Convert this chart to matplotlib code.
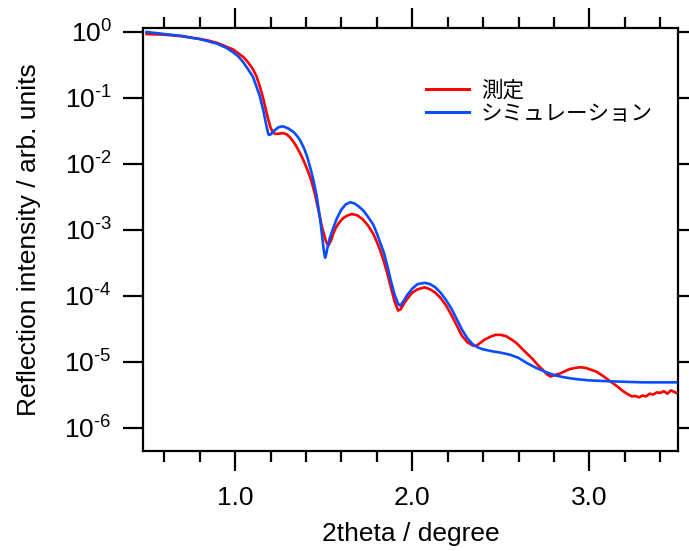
import math
import matplotlib
matplotlib.use("Agg")
import matplotlib.pyplot as plt
from matplotlib.ticker import FixedLocator, FuncFormatter, MultipleLocator

plt.rcParams['font.family'] = ['Liberation Sans', 'Noto Sans CJK JP', 'DejaVu Sans']
plt.rcParams['mathtext.fontset'] = 'custom'
plt.rcParams['mathtext.rm'] = 'Liberation Sans'
plt.rcParams['mathtext.it'] = 'Liberation Sans'
plt.rcParams['mathtext.bf'] = 'Liberation Sans'

# ---- data ----
sim_x = [0.50, 0.60, 0.70, 0.75, 0.80, 0.85, 0.90, 0.95, 0.99, 1.02, 1.045, 1.07,
         1.10, 1.12, 1.14, 1.16, 1.175, 1.185, 1.19, 1.20, 1.22, 1.245, 1.27, 1.30, 1.33,
         1.35, 1.367, 1.39, 1.407, 1.424, 1.44, 1.46, 1.48, 1.495, 1.50, 1.508, 1.515, 1.52, 1.535,
         1.554, 1.575, 1.60, 1.625, 1.65, 1.675, 1.70, 1.725, 1.75, 1.78, 1.80, 1.82,
         1.84, 1.86, 1.88, 1.90, 1.92, 1.932, 1.95, 1.97, 2.00, 2.03, 2.07, 2.10,
         2.13, 2.16, 2.19, 2.22, 2.25, 2.28, 2.31, 2.34, 2.37, 2.40, 2.45, 2.50,
         2.55, 2.60, 2.65, 2.70, 2.75, 2.80, 2.85, 2.90, 2.95, 3.00, 3.10, 3.20,
         3.30, 3.49]
sim_y = [1.00, 0.93, 0.87, 0.82, 0.78, 0.72, 0.66, 0.575, 0.49, 0.42, 0.35, 0.28,
         0.21, 0.15, 0.105, 0.063, 0.040, 0.030, 0.0275, 0.0280, 0.0318, 0.0360, 0.0372, 0.0345, 0.0305,
         0.0265, 0.0228, 0.0170, 0.0128, 0.0088, 0.0060, 0.0033, 0.00145, 6.6e-4, 5.0e-4, 3.8e-4, 4.4e-4, 5.2e-4, 7.6e-4,
         1.07e-3, 1.51e-3, 2.04e-3, 2.45e-3, 2.63e-3, 2.51e-3, 2.24e-3, 1.95e-3, 1.58e-3, 1.20e-3, 8.9e-4, 6.3e-4,
         4.5e-4, 2.8e-4, 1.66e-4, 1.05e-4, 7.6e-5, 7.1e-5, 8.3e-5, 1.02e-4, 1.29e-4, 1.51e-4, 1.58e-4, 1.51e-4,
         1.35e-4, 1.12e-4, 8.7e-5, 6.5e-5, 4.5e-5, 3.1e-5, 2.3e-5, 1.86e-5, 1.66e-5, 1.55e-5, 1.45e-5, 1.38e-5,
         1.29e-5, 1.15e-5, 9.5e-6, 8.1e-6, 7.1e-6, 6.3e-6, 5.9e-6, 5.6e-6, 5.4e-6, 5.25e-6, 5.1e-6, 5.0e-6,
         4.9e-6, 4.9e-6]

meas_x = [0.50, 0.60, 0.70, 0.75, 0.80, 0.85, 0.90, 0.95, 0.99, 1.045, 1.07, 1.10,
          1.12, 1.14, 1.16, 1.18, 1.20, 1.215, 1.23, 1.25, 1.27, 1.29, 1.31, 1.33,
          1.35, 1.37, 1.39, 1.41, 1.43, 1.45, 1.47, 1.49, 1.51, 1.525, 1.54, 1.555,
          1.57, 1.59, 1.61, 1.635, 1.66, 1.69, 1.72, 1.75, 1.78, 1.80, 1.82, 1.84,
          1.86, 1.88, 1.90, 1.92, 1.935, 1.95, 1.97, 2.00, 2.03, 2.07, 2.10, 2.13,
          2.16, 2.19, 2.22, 2.25, 2.28, 2.31, 2.34, 2.36, 2.38, 2.41, 2.44, 2.47,
          2.50, 2.53, 2.56, 2.59, 2.62, 2.65, 2.68, 2.71, 2.74, 2.76, 2.78, 2.80,
          2.83, 2.86, 2.89, 2.92, 2.95, 2.98, 3.01, 3.04, 3.07, 3.10, 3.13, 3.16,
          3.19, 3.22, 3.24, 3.26, 3.28, 3.30, 3.32, 3.34, 3.36, 3.38, 3.40, 3.42,
          3.44, 3.46, 3.49]
meas_y = [0.93, 0.91, 0.86, 0.82, 0.785, 0.74, 0.68, 0.60, 0.54, 0.42, 0.355, 0.275,
          0.214, 0.148, 0.095, 0.056, 0.0355, 0.0295, 0.0285, 0.0288, 0.0293, 0.0282, 0.0253, 0.0216,
          0.0176, 0.0140, 0.0107, 0.0079, 0.0056, 0.00355, 0.0020, 0.00112, 7.1e-4, 5.7e-4, 6.8e-4, 8.9e-4,
          1.10e-3, 1.32e-3, 1.51e-3, 1.66e-3, 1.74e-3, 1.66e-3, 1.45e-3, 1.17e-3, 8.7e-4, 6.6e-4, 4.8e-4, 3.3e-4,
          2.14e-4, 1.32e-4, 8.3e-5, 6.0e-5, 6.3e-5, 7.4e-5, 8.9e-5, 1.12e-4, 1.26e-4, 1.35e-4, 1.26e-4, 1.12e-4,
          9.3e-5, 7.2e-5, 5.2e-5, 3.6e-5, 2.5e-5, 2.0e-5, 1.78e-5, 1.74e-5, 1.91e-5, 2.19e-5, 2.4e-5, 2.57e-5,
          2.57e-5, 2.45e-5, 2.19e-5, 1.91e-5, 1.58e-5, 1.32e-5, 1.10e-5, 8.9e-6, 7.4e-6, 6.5e-6, 6.0e-6, 6.3e-6,
          6.6e-6, 7.2e-6, 7.8e-6, 8.1e-6, 8.3e-6, 8.1e-6, 7.6e-6, 7.1e-6, 6.3e-6, 5.5e-6, 4.8e-6, 4.2e-6,
          3.6e-6, 3.2e-6, 3.0e-6, 3.05e-6, 2.9e-6, 3.1e-6, 3.0e-6, 3.3e-6, 3.2e-6, 3.45e-6, 3.4e-6, 3.6e-6,
          3.3e-6, 3.7e-6, 3.4e-6]

x_ticks = [1.0, 2.0, 3.0]
x_ticklabels = ["1.0", "2.0", "3.0"]
y_exponents = [0, -1, -2, -3, -4, -5, -6]
label_meas = "測定"
label_sim = "シミュレーション"
xlabel = "2theta / degree"
ylabel = "Reflection intensity / arb. units"

FS = 19
LEG_FS = 15.5

fig = plt.figure(figsize=(6.89, 5.51), dpi=100)
ax = fig.add_axes([143/689, 1 - 451/551, (678 - 143)/689, (451 - 28)/551])

ax.plot(meas_x, meas_y, color='#ff0000', lw=1.9, label=label_meas, zorder=3)
ax.plot(sim_x, sim_y, color='#0a4cff', lw=1.9, label=label_sim, zorder=4)

ax.set_yscale('log')
ax.set_xlim(0.48, 3.50)
ax.set_ylim(10**-6.35, 10**0.06)

ax.xaxis.set_major_locator(FixedLocator(x_ticks))
ax.set_xticklabels(x_ticklabels)
ax.xaxis.set_minor_locator(MultipleLocator(0.2))
ax.yaxis.set_major_locator(FixedLocator([10.0**e for e in y_exponents]))
ax.yaxis.set_minor_locator(FixedLocator([]))


def fmt(v, p):
    e = int(round(math.log10(v)))
    if e < 0:
        return r'$\mathregular{10^{\text{-}%d}}$' % (-e)
    return r'$\mathregular{10^{%d}}$' % e


ax.yaxis.set_major_formatter(FuncFormatter(fmt))

for s in ax.spines.values():
    s.set_linewidth(1.6)
ax.tick_params(which='both', direction='out', top=True, right=True, width=1.6, labelsize=FS)
ax.tick_params(which='major', length=14.5)
ax.tick_params(which='minor', length=8)
ax.tick_params(axis='x', which='major', pad=11)
ax.tick_params(axis='y', which='major', pad=8)

ax.set_xlabel(xlabel, fontsize=FS, labelpad=8)
ax.set_ylabel(ylabel, fontsize=FS, labelpad=17)

leg = ax.legend(loc='upper left', bbox_to_anchor=(426/689, 1 - 81/551), bbox_transform=fig.transFigure,
                frameon=False, prop={'size': LEG_FS}, handlelength=2.0, handletextpad=0.55,
                labelspacing=0.08, borderpad=0, borderaxespad=0)
for h in leg.get_lines():
    h.set_linewidth(2.2)

fig.savefig("out.png", dpi=100)
